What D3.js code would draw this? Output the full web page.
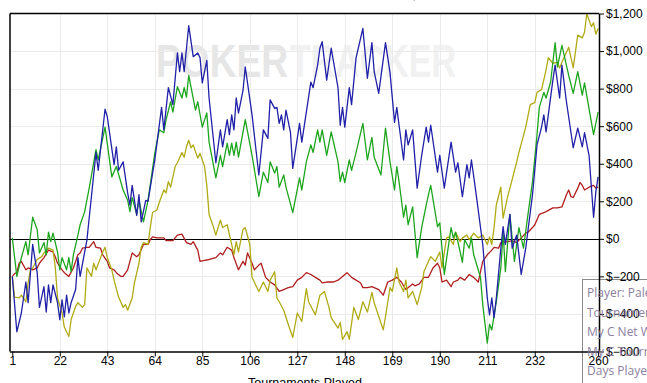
<!DOCTYPE html>
<html><head><meta charset="utf-8">
<script src="https://cdn.jsdelivr.net/npm/d3@7"></script>
<style>
html,body{margin:0;padding:0;background:#fff;overflow:hidden}
svg{display:block;font-family:"Liberation Sans",Arial,sans-serif}
</style></head>
<body><svg id="c" width="647" height="383"></svg>
<script>
const xTicks = [1,22,43,64,85,106,127,148,169,190,211,232,260];
const yTicks = [-600,-400,-200,0,200,400,600,800,1000,1200];
const xTitle = "Tournaments Played";
const legendLines = ["Player: Palestrina","Tournaments Played","My C Net Won","My C Tournaments","Days Played"];

const blueSeries = [[1,-200],[3,-495],[5,-395],[7,-230],[8,-340],[10,-30],[12,-180],[13,-365],[15,-255],[16,-390],[17,-245],[18,-340],[19,-245],[21,-340],[22,-430],[23,-325],[24,-415],[25,-300],[26,-395],[27,-340],[29,-270],[30,-100],[31,-200],[34,-5],[38,460],[39,365],[42,690],[43,650],[46,395],[47,490],[48,365],[50,410],[52,245],[53,180],[54,285],[56,125],[57,235],[58,90],[60,205],[61,200],[64,420],[67,700],[68,580],[70,805],[72,715],[74,990],[75,890],[76,990],[77,890],[79,1135],[81,970],[83,990],[84,965],[85,830],[87,950],[88,750],[91,405],[93,580],[94,490],[96,635],[97,555],[98,660],[99,580],[100,750],[101,670],[103,790],[104,915],[107,660],[110,340],[112,580],[114,535],[115,740],[117,695],[118,700],[119,615],[120,660],[121,580],[122,685],[124,565],[125,375],[128,615],[129,515],[131,675],[133,835],[134,805],[136,925],[137,1015],[138,1050],[140,845],[142,1015],[145,805],[146,605],[147,700],[148,595],[150,805],[151,715],[153,965],[156,1120],[158,855],[160,1045],[161,890],[163,775],[166,1045],[168,885],[170,620],[171,700],[172,605],[174,420],[175,580],[176,500],[178,580],[180,270],[182,445],[184,595],[185,515],[186,605],[189,355],[190,445],[192,270],[195,515],[197,355],[198,405],[200,225],[202,395],[203,325],[204,420],[206,245],[209,-30],[211,-315],[212,-405],[213,-315],[214,-420],[215,-315],[217,-50],[218,65],[219,-30],[221,130],[222,-50],[224,20],[226,-190],[228,-50],[231,235],[233,500],[235,595],[236,660],[237,570],[240,845],[241,925],[243,750],[244,925],[246,730],[249,485],[251,590],[253,490],[254,565],[256,445],[258,115],[259,250],[260,330]];

const greenSeries = [[1,5],[3,-200],[5,-100],[7,-15],[8,-85],[10,115],[12,50],[13,-75],[15,-20],[16,-85],[17,35],[18,-15],[19,30],[21,-70],[22,-165],[23,-100],[25,-165],[26,-100],[27,-175],[28,-85],[30,20],[31,75],[33,145],[35,270],[38,475],[39,420],[42,595],[45,330],[47,385],[50,260],[52,205],[53,145],[54,220],[56,130],[57,205],[59,90],[61,205],[64,455],[66,580],[68,565],[69,635],[71,730],[72,675],[74,810],[76,750],[77,805],[78,755],[79,870],[82,685],[83,730],[85,595],[87,670],[88,515],[91,325],[93,445],[94,385],[96,510],[97,445],[98,510],[99,445],[100,515],[101,435],[104,635],[107,445],[110,225],[112,355],[114,300],[115,410],[117,350],[118,385],[119,275],[121,340],[122,275],[125,140],[128,325],[129,260],[131,410],[133,500],[134,460],[136,580],[137,515],[138,580],[140,445],[142,570],[145,410],[146,305],[147,355],[148,300],[150,420],[151,365],[153,460],[156,615],[158,420],[160,540],[161,435],[164,340],[166,590],[168,410],[170,260],[171,385],[172,305],[174,115],[175,180],[176,75],[178,170],[180,-100],[182,60],[184,180],[185,235],[186,285],[189,65],[190,85],[192,-190],[195,60],[196,5],[197,35],[198,-15],[200,-125],[201,-5],[203,-50],[204,5],[205,-85],[208,-205],[209,-350],[211,-555],[212,-455],[213,-485],[215,-335],[217,-155],[218,35],[219,-175],[221,130],[223,-120],[225,60],[227,-50],[229,130],[231,305],[233,555],[234,700],[236,780],[237,750],[239,835],[241,1045],[242,915],[244,1030],[247,870],[249,775],[251,890],[253,765],[254,830],[258,555],[260,675]];

const oliveSeries = [[1,-200],[2,-310],[4,-315],[5,-300],[7,-335],[8,-235],[9,-165],[10,-155],[12,-110],[14,-95],[15,-75],[17,-50],[19,-60],[20,-150],[21,-315],[23,-395],[24,-470],[26,-520],[27,-430],[29,-360],[30,-340],[32,-365],[33,-350],[34,-155],[36,-200],[37,-130],[38,-165],[41,-70],[42,-45],[43,-100],[45,-165],[46,-220],[48,-310],[50,-365],[51,-350],[52,-380],[54,-315],[55,-235],[57,-130],[58,-45],[59,-20],[61,-30],[62,60],[63,140],[65,155],[66,195],[68,260],[69,245],[70,305],[71,275],[73,385],[74,405],[76,460],[77,435],[78,490],[79,525],[80,485],[81,500],[83,430],[84,455],[85,420],[86,385],[87,285],[88,130],[90,60],[91,20],[93,100],[94,60],[96,75],[98,-30],[99,-85],[100,-15],[101,-70],[103,50],[104,60],[106,-30],[107,-205],[110,-280],[112,-230],[114,-280],[115,-220],[117,-175],[118,-315],[119,-335],[121,-380],[123,-455],[125,-525],[127,-395],[129,-440],[131,-265],[132,-335],[135,-405],[137,-300],[139,-280],[141,-365],[142,-420],[145,-475],[146,-445],[147,-535],[149,-495],[150,-535],[152,-365],[154,-430],[156,-335],[158,-390],[160,-285],[161,-340],[165,-485],[166,-415],[168,-260],[169,-280],[171,-155],[172,-230],[174,-280],[175,-220],[176,-315],[178,-280],[180,-350],[182,-260],[183,-175],[185,-120],[186,-95],[188,-120],[190,-70],[191,-155],[193,5],[194,10],[196,-30],[197,35],[199,-15],[200,5],[202,20],[203,-5],[205,30],[207,5],[209,20],[211,-30],[212,10],[213,-30],[214,60],[215,180],[217,275],[218,110],[220,225],[222,315],[224,410],[225,460],[228,595],[230,715],[232,725],[233,780],[235,795],[237,900],[238,965],[240,935],[242,940],[243,910],[244,940],[247,1020],[249,910],[251,1085],[253,1070],[254,1100],[255,1200],[257,1130],[258,1150],[259,1090],[260,1120]];

const redSeries = [[1,-200],[2,-185],[3,-180],[4,-130],[5,-120],[7,-165],[8,-155],[10,-165],[12,-155],[13,-130],[15,-100],[17,-60],[19,-70],[20,-95],[21,-130],[23,-165],[24,-180],[26,-200],[28,-155],[30,-85],[31,-75],[32,-50],[34,-45],[35,-45],[37,-15],[38,-45],[40,-50],[41,-85],[43,-120],[44,-155],[46,-165],[47,-180],[49,-200],[50,-200],[52,-165],[53,-120],[54,-75],[56,-95],[57,-85],[59,-30],[61,-30],[62,-5],[63,10],[65,5],[68,5],[69,-10],[72,-10],[74,20],[76,25],[78,-20],[80,-30],[81,-15],[83,-60],[84,-120],[86,-115],[88,-110],[91,-100],[93,-75],[94,-85],[96,-45],[98,-60],[99,-100],[101,-165],[103,-120],[104,-140],[105,-75],[107,-130],[108,-165],[110,-140],[111,-130],[113,-205],[115,-230],[117,-245],[119,-280],[121,-270],[123,-260],[125,-255],[127,-220],[129,-205],[131,-180],[133,-190],[135,-205],[137,-220],[138,-235],[140,-230],[143,-230],[145,-220],[147,-200],[149,-180],[151,-205],[153,-220],[155,-235],[156,-260],[158,-260],[160,-255],[163,-270],[165,-300],[167,-230],[169,-220],[171,-205],[173,-230],[175,-270],[178,-240],[179,-250],[181,-240],[183,-205],[185,-205],[187,-155],[189,-130],[190,-155],[191,-230],[193,-220],[195,-255],[196,-230],[198,-220],[199,-205],[201,-220],[203,-190],[205,-205],[207,-230],[209,-120],[211,-85],[213,-60],[214,-45],[216,-50],[217,-20],[220,-15],[222,-10],[224,-20],[226,5],[228,30],[229,35],[231,60],[232,75],[234,130],[236,140],[237,145],[240,165],[242,165],[244,170],[246,235],[247,260],[248,225],[249,220],[251,270],[252,300],[253,285],[254,260],[256,275],[258,285],[259,270],[260,275]];

const seriesList = [
  {name:"red", data:redSeries, color:"#b01e1e"},
  {name:"olive", data:oliveSeries, color:"#b0aa14"},
  {name:"green", data:greenSeries, color:"#1ea51e"},
  {name:"blue", data:blueSeries, color:"#2020a8"}
];

const svg = d3.select("#c");
const L = 10, R = 599, T = 13.5, B = 351.5;
const x = d3.scaleLinear().domain([1,260]).range([12.3,598.1]);
const y = d3.scaleLinear().domain([-600,1200]).range([B,T]);

// watermark
const wm = svg.append("g");
wm.append("text").attr("x",156).attr("y",77).attr("font-size",46).attr("font-weight","bold")
  .attr("fill","#e6e6e6").attr("textLength",132).attr("lengthAdjust","spacingAndGlyphs").text("POKER");
wm.append("text").attr("x",290).attr("y",77).attr("font-size",46).attr("font-weight","bold")
  .attr("fill","#f1f1f1").attr("textLength",166).attr("lengthAdjust","spacingAndGlyphs").text("TRACKER");

// gridlines
svg.append("g").selectAll("line.v").data(xTicks.slice(1,-1)).join("line")
  .attr("x1",d=>Math.round(x(d))+0.5).attr("x2",d=>Math.round(x(d))+0.5)
  .attr("y1",T).attr("y2",B).attr("stroke","#ebebeb").attr("stroke-width",1);
svg.append("g").selectAll("line.h").data(yTicks.filter(d=>d!==0&&d!==-600&&d!==1200)).join("line")
  .attr("x1",L).attr("x2",R).attr("y1",d=>Math.round(y(d))+0.5).attr("y2",d=>Math.round(y(d))+0.5)
  .attr("stroke","#ebebeb").attr("stroke-width",1);

// zero line
svg.append("line").attr("x1",L).attr("x2",R).attr("y1",Math.round(y(0))+0.5).attr("y2",Math.round(y(0))+0.5)
  .attr("stroke","#000").attr("stroke-width",1.2);

// clip
svg.append("clipPath").attr("id","pc").append("rect").attr("x",L).attr("y",T-1).attr("width",R-L).attr("height",B-T+1);

const line = d3.line().x(d=>x(d[0])).y(d=>y(d[1]));
const lg = svg.append("g").attr("clip-path","url(#pc)");
seriesList.forEach(s=>{
  lg.append("path").datum(s.data).attr("d",line).attr("fill","none")
    .attr("stroke",s.color).attr("stroke-width",1.3).attr("stroke-linejoin","round");
});

// tooltip box background
svg.append("rect").attr("x",582.5).attr("y",279.5).attr("width",120).attr("height",120)
  .attr("fill","#fff").attr("fill-opacity",0.85).attr("stroke","#8a8a8a").attr("stroke-width",1);

// frame: top, left, bottom, right
svg.append("line").attr("x1",L).attr("x2",R).attr("y1",T).attr("y2",T).attr("stroke","#000").attr("stroke-width",1.5);
svg.append("line").attr("x1",L).attr("x2",L).attr("y1",T).attr("y2",B).attr("stroke","#000").attr("stroke-width",1.5);

// axes
const xAxis = d3.axisBottom(x).tickValues(xTicks).tickSize(5).tickSizeOuter(0).tickFormat(d3.format("d"));
const gx = svg.append("g").attr("transform",`translate(0,${B})`).call(xAxis);
gx.select(".domain").attr("d",`M${L},0.5H${R}`).attr("stroke","#000").attr("stroke-width",1.5);
gx.selectAll(".tick line").attr("stroke","#000");
gx.selectAll(".tick text").attr("font-size",12).attr("font-family","Liberation Sans, Arial, sans-serif").attr("fill","#000").attr("dy","0.6em").attr("y",6);

const yAxis = d3.axisRight(y).tickValues(yTicks).tickSize(5).tickSizeOuter(0).tickFormat(d=>"$"+d3.format(",")(d));
const gy = svg.append("g").attr("transform",`translate(${R},0)`).call(yAxis);
gy.select(".domain").attr("stroke","#000").attr("stroke-width",1.5);
gy.selectAll(".tick line").attr("stroke","#000");
gy.selectAll(".tick text").attr("font-size",12).attr("font-family","Liberation Sans, Arial, sans-serif").attr("fill","#000").attr("x",7);

// axis title (mostly cut off)
svg.append("text").attr("x",305).attr("y",386.5).attr("text-anchor","middle").attr("font-size",12.5).attr("fill","#000").text(xTitle);

// title fragment at very top
svg.append("text").attr("x",416).attr("y",-1).attr("text-anchor","end").attr("font-size",12).attr("fill","#000").text("Tournament Results,");

// tooltip text
svg.append("g").selectAll("text").data(legendLines).join("text")
  .attr("x",587).attr("y",(d,i)=>297+i*19.5).attr("font-size",12)
  .attr("font-family","'Open Sans', 'Liberation Sans', sans-serif")
  .attr("fill","#8c7fa0").text(d=>d);
</script></body></html>
